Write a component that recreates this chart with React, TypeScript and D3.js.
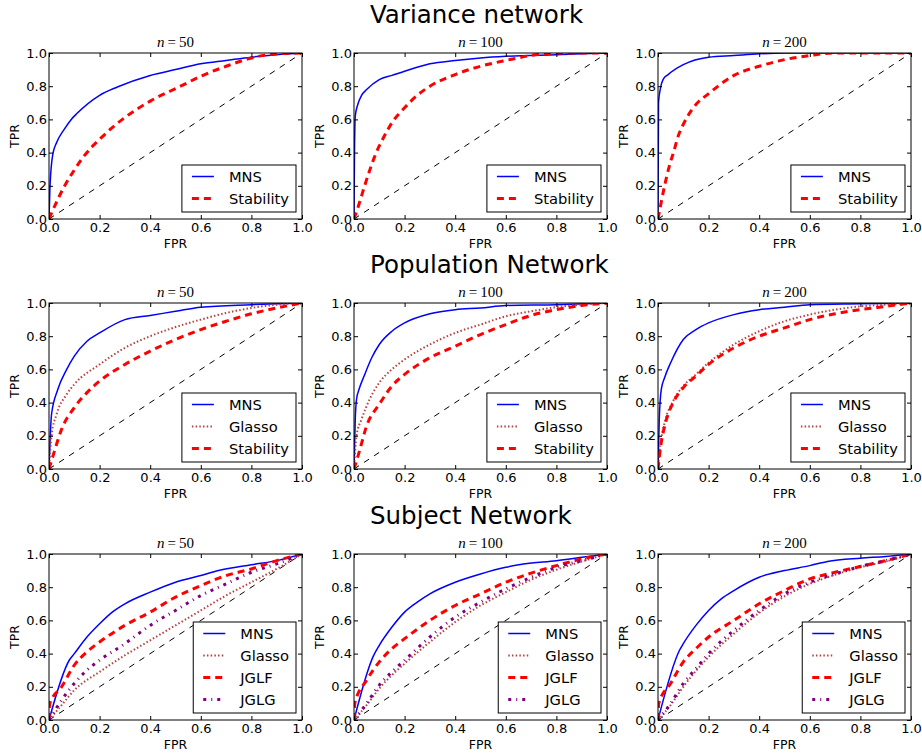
import React, { useRef, useEffect } from 'react';
import * as d3 from 'd3';

// ROC points [fpr, tpr]
const varN50Mns = [[0,0],[0.004,0.2],[0.015,0.39],[0.03,0.46],[0.06,0.54],[0.088,0.6],[0.11,0.635],[0.2,0.745],[0.27,0.795],[0.4,0.865],[0.5,0.9],[0.6,0.935],[0.7,0.955],[0.8,0.975],[0.9,0.99],[1,1]];
const varN50Stab = [[0,0],[0.02,0.07],[0.062,0.2],[0.1,0.295],[0.134,0.37],[0.17,0.435],[0.2,0.48],[0.25,0.55],[0.29,0.6],[0.4,0.71],[0.52,0.8],[0.6,0.86],[0.7,0.92],[0.8,0.97],[0.9,0.995],[1,1]];
const varN100Mns = [[0,0],[0.002,0.4],[0.005,0.62],[0.015,0.69],[0.03,0.745],[0.05,0.78],[0.1,0.84],[0.15,0.865],[0.2,0.89],[0.3,0.935],[0.4,0.955],[0.5,0.97],[0.6,0.98],[0.8,0.99],[1,1]];
const varN100Stab = [[0,0],[0.02,0.09],[0.042,0.2],[0.088,0.4],[0.12,0.5],[0.15,0.58],[0.2,0.67],[0.25,0.745],[0.3,0.8],[0.4,0.87],[0.5,0.92],[0.6,0.955],[0.7,0.985],[0.8,1],[1,1]];
const varN200Mns = [[0,0],[0.002,0.7],[0.01,0.79],[0.02,0.84],[0.04,0.87],[0.1,0.93],[0.2,0.975],[0.3,0.985],[0.4,0.995],[0.5,1],[1,1]];
const varN200Stab = [[0,0],[0.01,0.08],[0.026,0.2],[0.045,0.32],[0.063,0.41],[0.08,0.5],[0.1,0.57],[0.13,0.65],[0.15,0.69],[0.2,0.755],[0.3,0.865],[0.4,0.92],[0.5,0.96],[0.6,0.985],[0.7,1],[1,1]];

const popN50Mns = [[0,0],[0.005,0.2],[0.01,0.33],[0.035,0.48],[0.07,0.6],[0.1,0.68],[0.15,0.77],[0.2,0.82],[0.3,0.9],[0.4,0.925],[0.5,0.95],[0.6,0.975],[0.8,0.99],[1,1]];
const popN50Glasso = [[0,0],[0.01,0.2],[0.03,0.33],[0.07,0.45],[0.1,0.51],[0.2,0.63],[0.3,0.73],[0.4,0.8],[0.5,0.855],[0.6,0.9],[0.7,0.94],[0.8,0.97],[0.9,0.99],[1,1]];
const popN50Stab = [[0,0],[0.02,0.1],[0.05,0.24],[0.1,0.37],[0.15,0.46],[0.2,0.53],[0.3,0.63],[0.4,0.71],[0.5,0.78],[0.6,0.84],[0.7,0.89],[0.8,0.935],[0.9,0.97],[1,1]];
const popN100Mns = [[0,0],[0.005,0.3],[0.01,0.42],[0.02,0.48],[0.04,0.56],[0.07,0.67],[0.1,0.75],[0.15,0.83],[0.2,0.88],[0.3,0.935],[0.4,0.96],[0.5,0.97],[0.6,0.985],[0.8,0.99],[1,1]];
const popN100Glasso = [[0,0],[0.01,0.2],[0.03,0.3],[0.05,0.38],[0.1,0.52],[0.15,0.6],[0.2,0.66],[0.3,0.75],[0.4,0.82],[0.5,0.87],[0.6,0.92],[0.7,0.95],[0.8,0.975],[0.9,0.99],[1,1]];
const popN100Stab = [[0,0],[0.02,0.1],[0.05,0.26],[0.1,0.39],[0.15,0.5],[0.2,0.57],[0.3,0.67],[0.4,0.74],[0.5,0.81],[0.6,0.87],[0.7,0.925],[0.8,0.96],[0.9,0.985],[1,1]];
const popN200Mns = [[0,0],[0.005,0.3],[0.013,0.48],[0.026,0.55],[0.05,0.64],[0.1,0.78],[0.15,0.84],[0.2,0.88],[0.3,0.93],[0.4,0.96],[0.5,0.975],[0.6,0.99],[0.8,0.995],[1,1]];
const popN200Glasso = [[0,0],[0.01,0.15],[0.03,0.3],[0.06,0.41],[0.1,0.5],[0.15,0.57],[0.2,0.64],[0.3,0.75],[0.4,0.83],[0.5,0.89],[0.6,0.93],[0.7,0.96],[0.8,0.98],[0.9,0.99],[1,1]];
const popN200Stab = [[0,0],[0.01,0.13],[0.03,0.28],[0.06,0.4],[0.1,0.49],[0.15,0.56],[0.2,0.63],[0.3,0.73],[0.4,0.8],[0.5,0.85],[0.6,0.9],[0.7,0.935],[0.8,0.96],[0.9,0.98],[1,1]];

const subN50Mns = [[0,0],[0.08,0.36],[0.1,0.4],[0.15,0.5],[0.2,0.58],[0.25,0.65],[0.3,0.7],[0.4,0.77],[0.5,0.83],[0.6,0.87],[0.67,0.9],[0.8,0.935],[0.9,0.96],[1,1]];
const subN50Glasso = [[0,0],[0.05,0.09],[0.1,0.18],[0.2,0.29],[0.3,0.39],[0.4,0.48],[0.5,0.57],[0.6,0.66],[0.7,0.75],[0.8,0.83],[0.9,0.91],[1,1]];
const subN50Jglf = [[0,0],[0.003,0.1],[0.05,0.2],[0.1,0.33],[0.15,0.41],[0.2,0.47],[0.3,0.57],[0.4,0.65],[0.5,0.74],[0.6,0.81],[0.7,0.87],[0.8,0.91],[0.9,0.96],[1,1]];
const subN50Jglg = [[0,0],[0.05,0.12],[0.1,0.22],[0.15,0.3],[0.2,0.36],[0.3,0.46],[0.4,0.57],[0.5,0.66],[0.6,0.75],[0.7,0.82],[0.8,0.89],[0.9,0.94],[1,1]];
const subN100Mns = [[0,0],[0.075,0.38],[0.1,0.45],[0.15,0.56],[0.2,0.65],[0.25,0.71],[0.3,0.76],[0.4,0.83],[0.5,0.88],[0.6,0.92],[0.67,0.94],[0.8,0.96],[0.9,0.98],[1,1]];
const subN100Glasso = [[0,0],[0.05,0.09],[0.1,0.19],[0.2,0.34],[0.3,0.47],[0.4,0.59],[0.5,0.69],[0.6,0.77],[0.7,0.845],[0.8,0.905],[0.9,0.955],[1,1]];
const subN100Jglf = [[0,0],[0.003,0.1],[0.05,0.24],[0.1,0.35],[0.15,0.43],[0.2,0.49],[0.3,0.6],[0.4,0.69],[0.5,0.76],[0.6,0.83],[0.7,0.885],[0.8,0.93],[0.9,0.97],[1,1]];
const subN100Jglg = [[0,0],[0.05,0.1],[0.1,0.21],[0.15,0.29],[0.2,0.36],[0.3,0.5],[0.4,0.62],[0.5,0.71],[0.6,0.79],[0.7,0.86],[0.8,0.92],[0.9,0.96],[1,1]];
const subN200Mns = [[0,0],[0.085,0.42],[0.1,0.46],[0.15,0.57],[0.2,0.66],[0.25,0.73],[0.3,0.78],[0.4,0.86],[0.5,0.9],[0.6,0.93],[0.67,0.955],[0.8,0.975],[0.9,0.985],[1,1]];
const subN200Glasso = [[0,0],[0.05,0.09],[0.1,0.2],[0.2,0.38],[0.3,0.52],[0.4,0.645],[0.5,0.745],[0.6,0.82],[0.7,0.875],[0.8,0.92],[0.9,0.955],[1,1]];
const subN200Jglf = [[0,0],[0.003,0.1],[0.05,0.22],[0.1,0.35],[0.15,0.43],[0.2,0.5],[0.3,0.6],[0.4,0.7],[0.5,0.78],[0.6,0.85],[0.7,0.89],[0.8,0.925],[0.9,0.96],[1,1]];
const subN200Jglg = [[0,0],[0.05,0.1],[0.1,0.22],[0.15,0.31],[0.2,0.4],[0.3,0.54],[0.4,0.66],[0.5,0.76],[0.6,0.83],[0.7,0.88],[0.8,0.925],[0.9,0.96],[1,1]];

const rowTitles = ["Variance network", "Population Network", "Subject Network"];
const sampleSizes = ["50", "100", "200"];
const rowMethods = [["MNS", "Stability"], ["MNS", "Glasso", "Stability"], ["MNS", "Glasso", "JGLF", "JGLG"]];
const panelData = [
    [[varN50Mns, varN50Stab], [varN100Mns, varN100Stab], [varN200Mns, varN200Stab]],
    [[popN50Mns, popN50Glasso, popN50Stab], [popN100Mns, popN100Glasso, popN100Stab], [popN200Mns, popN200Glasso, popN200Stab]],
    [[subN50Mns, subN50Glasso, subN50Jglf, subN50Jglg], [subN100Mns, subN100Glasso, subN100Jglf, subN100Jglg], [subN200Mns, subN200Glasso, subN200Jglf, subN200Jglg]],
];
const tickValues = [0, 0.2, 0.4, 0.6, 0.8, 1.0];

const styles = {
    MNS: { color: "#0000ff", width: 1.5, dash: null },
    Glasso: { color: "#b84040", width: 2, dash: "1.5,2.2" },
    Stability: { color: "#ff0000", width: 3, dash: "7,5" },
    JGLF: { color: "#ff0000", width: 3, dash: "7,5" },
    JGLG: { color: "#800080", width: 3, dash: "3,5,1,5" },
};

const W = 922, H = 753;
const colLeft = [49, 354, 658];
const rowTop = [53, 303, 554];
const pw = 253, ph = 166;
const font = "'DejaVu Sans', sans-serif";

const measure = (text, size) => {
    const ctx = document.createElement("canvas").getContext("2d");
    ctx.font = `${size}px 'DejaVu Sans'`;
    return ctx.measureText(text).width;
};

const App = () => {
    const ref = useRef(null);
    useEffect(() => {
        const svg = d3.select(ref.current);
        svg.selectAll("*").remove();
        svg.append("rect").attr("width", W).attr("height", H).attr("fill", "white");

        rowTitles.forEach((title, r) => {
            svg.append("text")
                .attr("x", 370).attr("y", rowTop[r] - 30)
                .attr("font-family", font).attr("font-size", 24.5)
                .text(title);

            sampleSizes.forEach((n, c) => {
                const g = svg.append("g").attr("transform", `translate(${colLeft[c]},${rowTop[r]})`);
                const x = d3.scaleLinear().domain([0, 1]).range([0, pw]);
                const y = d3.scaleLinear().domain([0, 1]).range([ph, 0]);
                const clipId = `clip-${r}-${c}`;
                g.append("clipPath").attr("id", clipId)
                    .append("rect").attr("width", pw).attr("height", ph);

                const plot = g.append("g").attr("clip-path", `url(#${clipId})`);
                const line = d3.line().x(d => x(d[0])).y(d => y(d[1])).curve(d3.curveMonotoneX);

                // chance diagonal
                plot.append("path")
                    .attr("d", line([[0, 0], [1, 1]]))
                    .attr("fill", "none").attr("stroke", "black")
                    .attr("stroke-width", 1).attr("stroke-dasharray", "6,6");

                rowMethods[r].forEach((m, i) => {
                    const s = styles[m];
                    plot.append("path")
                        .attr("d", line(panelData[r][c][i]))
                        .attr("fill", "none")
                        .attr("stroke", s.color)
                        .attr("stroke-width", s.width)
                        .attr("stroke-dasharray", s.dash);
                });

                // axes with inward ticks on every side
                const fmt = d3.format(".1f");
                const styleAxis = (a) => {
                    a.select(".domain").remove();
                    a.selectAll("line").attr("stroke", "black");
                    a.selectAll("text").attr("font-family", font).attr("font-size", 13).attr("fill", "black");
                };
                g.append("g").attr("transform", `translate(0,${ph})`)
                    .call(d3.axisBottom(x).tickValues(tickValues).tickSize(-4).tickPadding(4).tickFormat(fmt))
                    .call(styleAxis);
                g.append("g")
                    .call(d3.axisLeft(y).tickValues(tickValues).tickSize(-4).tickPadding(2).tickFormat(fmt))
                    .call(styleAxis);
                g.append("g")
                    .call(d3.axisTop(x).tickValues(tickValues).tickSize(-4).tickFormat(() => ""))
                    .call(styleAxis);
                g.append("g").attr("transform", `translate(${pw},0)`)
                    .call(d3.axisRight(y).tickValues(tickValues).tickSize(-4).tickFormat(() => ""))
                    .call(styleAxis);

                g.append("rect").attr("width", pw).attr("height", ph)
                    .attr("fill", "none").attr("stroke", "black").attr("stroke-width", 1);

                // panel title
                const t = g.append("text")
                    .attr("x", pw / 2).attr("y", -6)
                    .attr("text-anchor", "middle")
                    .attr("font-family", "'Liberation Serif', serif").attr("font-size", 15);
                t.append("tspan").attr("font-style", "italic").text("n");
                t.append("tspan").attr("dx", 3).text("=");
                t.append("tspan").attr("dx", 3).text(n);

                g.append("text")
                    .attr("x", pw / 2).attr("y", ph + 29)
                    .attr("text-anchor", "middle")
                    .attr("font-family", font).attr("font-size", 12.5)
                    .text("FPR");
                g.append("text")
                    .attr("transform", `translate(-30,${ph / 2}) rotate(-90)`)
                    .attr("text-anchor", "middle")
                    .attr("font-family", font).attr("font-size", 12.5)
                    .text("TPR");

                // legend, lower right
                const labels = rowMethods[r];
                const lw = 47 + d3.max(labels, l => measure(l, 14.7)) + 7;
                const lh = 22 * labels.length + 3;
                const lg = g.append("g").attr("transform", `translate(${pw - 6 - lw},${ph - 7 - lh})`);
                lg.append("rect").attr("width", lw).attr("height", lh)
                    .attr("fill", "white").attr("stroke", "black").attr("stroke-width", 1);
                labels.forEach((l, i) => {
                    const s = styles[l];
                    const cy = 11.5 + i * 22;
                    lg.append("line")
                        .attr("x1", 10).attr("x2", 32).attr("y1", cy).attr("y2", cy)
                        .attr("stroke", s.color).attr("stroke-width", s.width)
                        .attr("stroke-dasharray", s.dash);
                    lg.append("text")
                        .attr("x", 47).attr("y", cy).attr("dy", "0.36em")
                        .attr("font-family", font).attr("font-size", 14.7)
                        .text(l);
                });
            });
        });
    }, []);

    return (
        <svg
            ref={ref}
            width={W}
            height={H}
            style={{ position: "absolute", left: 0, top: 0 }}
        />
    );
};

export default App;
